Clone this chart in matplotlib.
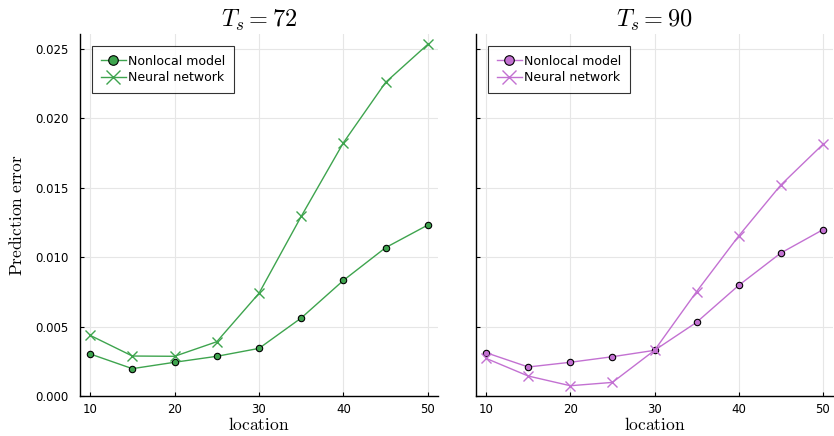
import numpy as np
import matplotlib.pyplot as plt

plt.rcParams["mathtext.fontset"] = "cm"
plt.rcParams["font.family"] = "DejaVu Sans"

# ---------------------- Daten ----------------------
location = [10, 15, 20, 25, 30, 35, 40, 45, 50]

nonlocal_72 = [0.00303, 0.00197, 0.00243, 0.00286, 0.00343, 0.00562, 0.00833, 0.01069, 0.01232]
neural_72 = [0.00437, 0.00288, 0.00286, 0.00391, 0.0074, 0.01294, 0.01825, 0.0226, 0.02534]

nonlocal_90 = [0.00312, 0.00209, 0.00243, 0.00283, 0.00329, 0.00531, 0.00797, 0.0103, 0.01198]
neural_90 = [0.00271, 0.00144, 0.00074, 0.00098, 0.00329, 0.00752, 0.01153, 0.0152, 0.01813]

titles = [r"$T_s = 72$", r"$T_s = 90$"]
colors = ["#3EA44E", "#C371D2"]
yticks = [0.0, 0.005, 0.010, 0.015, 0.020, 0.025]

fig = plt.figure(figsize=(8.34, 4.36), dpi=100)
ax1 = fig.add_axes([80/834, 1-396/436, 358/834, 362/436])
ax2 = fig.add_axes([476/834, 1-396/436, 357/834, 362/436], sharey=ax1)

panels = [(ax1, nonlocal_72, neural_72), (ax2, nonlocal_90, neural_90)]
for i, (ax, nl, nn) in enumerate(panels):
    c = colors[i]
    ax.plot(location, nl, color=c, lw=1, marker="o", ms=4.6,
            mec="black", mew=0.8, label="Nonlocal model")
    ax.plot(location, nn, color=c, lw=1, marker="x", ms=6.5, mew=1,
            label="Neural network")
    ax.set_xlim(8.8, 51.2)
    ax.set_ylim(0, 0.02608)
    ax.set_xticks([10, 20, 30, 40, 50])
    ax.set_yticks(yticks)
    ax.set_yticklabels([f"{v:.3f}" for v in yticks])
    ax.grid(True, color="#e6e6e6", lw=0.8)
    ax.set_axisbelow(True)
    for s in ["top", "right"]:
        ax.spines[s].set_visible(False)
    ax.spines["left"].set_linewidth(1)
    ax.spines["bottom"].set_linewidth(1)
    ax.tick_params(direction="in", length=3, labelsize=8.5)
    ax.tick_params(axis="y", pad=8)
    ax.tick_params(axis="x", pad=5)
    ax.set_title(titles[i], fontsize=17.5, pad=5)
    ax.set_xlabel(r"$\mathrm{location}$", fontsize=12.5, labelpad=0)
    leg = ax.legend(loc="upper left", fontsize=9.0, frameon=True, fancybox=False,
                    edgecolor="black", markerscale=1.5, handlelength=2.0,
                    handletextpad=0.2, borderpad=0.7, labelspacing=0.3,
                    bbox_to_anchor=(0.0, 1.0), borderaxespad=0.95)
    leg.get_frame().set_linewidth(0.8)

ax1.set_ylabel(r"$\mathrm{Prediction\ error}$", fontsize=12.5, labelpad=7)
plt.setp(ax2.get_yticklabels(), visible=False)

fig.savefig("out.png", dpi=100)
